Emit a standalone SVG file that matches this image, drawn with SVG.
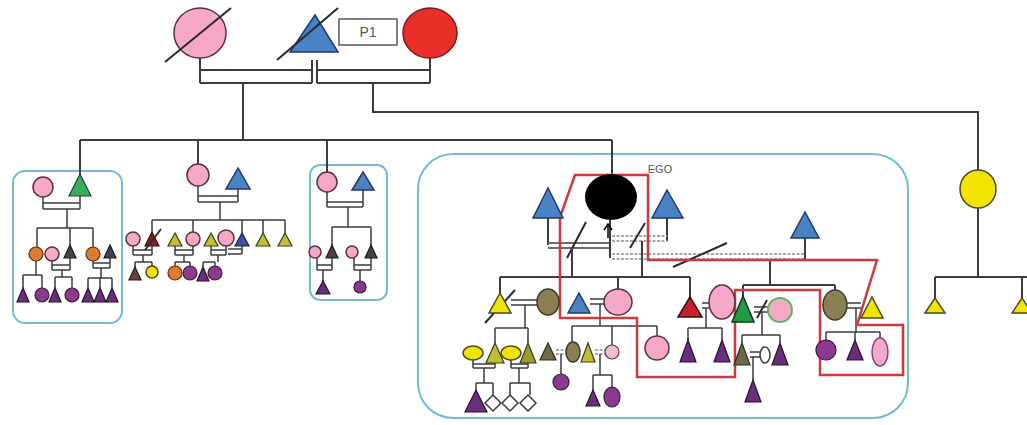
<svg xmlns="http://www.w3.org/2000/svg" width="1027" height="425" viewBox="0 0 1027 425">
<style>
.ln{stroke:#3c3c3c;stroke-width:2;fill:none}
.tn{stroke:#3c3c3c;stroke-width:1.5;fill:none}
.gr{stroke:#6a6a6a;stroke-width:2;fill:none}
.ds{stroke:#8a8a8a;stroke-width:1.5;stroke-dasharray:3 1.5;fill:none}
.sl{stroke:#2a2a2a;stroke-width:2;fill:none}
.box{fill:none;stroke:#72bcd2;stroke-width:2}
.red{fill:none;stroke:#cc3a3e;stroke-width:2.5;stroke-linejoin:miter}
.pk{fill:#f6a8c8;stroke:#5a3040;stroke-width:1.5}
.bl{fill:#4a82c6;stroke:#22396a;stroke-width:1.5}
.rd{fill:#e8302a;stroke:#7a1a1a;stroke-width:1.5}
.yl{fill:#f2e400;stroke:#4a4a20;stroke-width:1.5}
.yg{fill:#c4bc32;stroke:#3c3c20;stroke-width:1.2}
.ol{fill:#8a7e52;stroke:#3c3a28;stroke-width:1.5}
.dol{fill:#6e6a44;stroke:#2c2a20;stroke-width:1.2}
.pu{fill:#8c3a8e;stroke:#3a1a3a;stroke-width:1.2}
.dpu{fill:#6a2e7a;stroke:#2a1030;stroke-width:1.2}
.or{fill:#e07a30;stroke:#5a3010;stroke-width:1.2}
.gn{fill:#3aaa60;stroke:#1a4a2a;stroke-width:1.2}
.dk{fill:#4a4048;stroke:#1a1a1a;stroke-width:1.2}
.wh{fill:#ffffff;stroke:#3c3c3c;stroke-width:1.5}
.txt{font-family:'Liberation Sans',Arial,sans-serif}
</style>
<rect width="1027" height="425" fill="#ffffff"/>

<g id="boxes">
<rect class="box" x="13" y="171" width="109" height="152" rx="12"/>
<rect class="box" x="310" y="165" width="77" height="135" rx="10"/>
<rect class="box" x="418" y="154" width="490" height="264" rx="35"/>
</g>

<g id="connectors">
<path class="ln" d="M200,58 V83 M200,70 H312 M200,83 H312 M312,60 V83 M317,60 V83 M317,70 H430 M317,83 H430 M430,58 V83"/>
<path class="ln" d="M243,83 V140 M373,83 V112 H978 V170 M978,208 V277 M935,277 H1027 M935,277 V298 M1022,277 V298"/>
<path class="ln" d="M80,140 H612 M80,140 V174 M198,140 V164 M327,140 V172 M612,140 V175"/>
<!-- left box -->
<path class="tn" d="M43,197 V209 M80,196 V209 M43,203 H80 M43,209 H80 M67,209 V228 M37,228 H93 M37,228 V247 M70,228 V245 M93,228 V247"/>
<path class="tn" d="M36,261 V275 M23,275 H42 M23,275 V288 M42,275 V288"/>
<path class="tn" d="M52,261 V270 M70,258 V270 M52,265 H70 M52,270 H70 M62,270 V277 M55,277 H72 M55,277 V288 M72,277 V288"/>
<path class="tn" d="M93,261 V268 M110,258 V268 M93,263 H110 M93,268 H110 M101,268 V278 M88,278 H112 M88,278 V288 M100,278 V288 M112,278 V288"/>
<!-- middle family -->
<path class="tn" d="M198,186 V202 M238,189 V202 M198,196 H238 M198,202 H238 M220,202 V220 M152,220 H285 M152,220 V232 M193,220 V232 M242,220 V233 M263,220 V233 M285,220 V233"/>
<path class="tn" d="M133,246 V255 M152,246 V255 M133,250 H152 M133,255 H152 M143,255 V262 M135,262 H152 M135,262 V267 M152,262 V266"/>
<path class="tn" d="M175,246 V255 M193,246 V255 M175,250 H193 M175,255 H193 M184,255 V262 M175,262 H190 M175,262 V266 M190,262 V266"/>
<path class="tn" d="M211,246 V255 M226,246 V255 M211,250 H226 M211,255 H226 M218,255 V262 M203,262 H215 M203,262 V267 M215,262 V266 M228,249 H242 M228,254 H242 M242,246 V254"/>
<!-- third box -->
<path class="tn" d="M327,192 V207 M363,190 V207 M327,202 H363 M327,207 H363 M348,207 V227 M332,227 H371 M332,227 V245 M371,227 V245"/>
<path class="tn" d="M317,258 V270 M332,258 V270 M317,265 H332 M317,270 H332 M323,270 V281"/>
<path class="tn" d="M354,258 V270 M371,258 V270 M354,265 H371 M354,270 H371 M360,270 V281"/>
<!-- EGO family -->
<path class="ln" d="M548,218 V245"/>
<path class="gr" d="M548,243 H610 M548,248 H610"/>
<path class="ln" d="M610,220 V258 M667,218 V241 M805,238 V259"/>
<path class="ds" d="M612,236 H667 M612,241 H667 M612,254 H805 M612,259 H805"/>
<path class="sl" d="M567,258 L586,222 M630,248 L645,223 M673,267 L727,243"/>
<path class="ln" d="M572,248 V277 M642,241 V277 M770,259 V285"/>
<path class="ln" d="M500,277 H690 M500,277 V293 M618,277 V289 M690,277 V297"/>
<path class="ln" d="M743,285 H835 M743,285 V297 M835,285 V290"/>
<path class="tn" d="M511,300 H537 M511,305 H537 M590,299 H604 M590,304 H604 M702,303 H709 M702,308 H709 M754,307 H768 M754,312 H768 M847,303 H861 M847,308 H861"/>
<path class="sl" d="M757,318 L767,300 M485,323 L515,290"/>
<!-- gen 4 -->
<path class="tn" d="M525,305 V328 M495,328 H528 M495,328 V343 M528,328 V343"/>
<path class="tn" d="M473,360 V368 M495,363 V368 M473,364 H495 M473,368 H495 M484,368 V383 M476,383 H493 M476,383 V390 M493,383 V395"/>
<path class="tn" d="M511,360 V368 M528,363 V368 M511,364 H528 M511,368 H528 M519,368 V383 M510,383 H530 M510,383 V395 M530,383 V395"/>
<path class="tn" d="M600,304 V326 M572,326 H657 M572,326 V342 M612,326 V345 M657,326 V336"/>
<path class="ds" d="M556,350 H566 M556,354 H566 M595,350 H605 M595,354 H605"/>
<path class="tn" d="M561,354 V374 M600,354 V375 M593,375 H612 M593,375 V390 M612,375 V388"/>
<path class="tn" d="M706,308 V328 M688,328 H722 M688,328 V340 M722,328 V340"/>
<path class="tn" d="M762,312 V335 M742,335 H780 M742,335 V343 M780,335 V343 M750,352 H760 M750,357 H760 M753,357 V380"/>
<path class="tn" d="M856,308 V332 M826,332 H880 M826,332 V340 M855,332 V340 M880,332 V338"/>
</g>

<g id="red-outline">
<polygon class="red" points="575,175 648,175 648,260 877,260 857,325 903,325 903,375 820,375 820,290 735,290 735,377 637,377 637,318 560,318 560,217"/>
</g>

<g id="gen1">
<g id="grandmother"><ellipse class="pk" cx="200" cy="33" rx="26" ry="25"/><line class="sl" x1="165" y1="62" x2="231" y2="8"/></g>
<g id="grandfather"><polygon class="bl" points="315,15 290,52 338,52"/><line class="sl" x1="277" y1="60" x2="338" y2="8"/></g>
<g id="p1-label"><rect x="339" y="19" width="58" height="26" fill="#ffffff" stroke="#555555" stroke-width="1.5"/><text class="txt" x="368" y="37" font-size="14" fill="#555555" text-anchor="middle">P1</text></g>
<g id="partner1"><ellipse class="rd" cx="430" cy="33" rx="27" ry="25"/></g>
</g>

<g id="left-family">
<circle class="pk" cx="43" cy="187" r="10"/>
<polygon class="gn" points="80,174 69,196 91,196"/>
<circle class="or" cx="36" cy="254" r="7"/>
<circle class="pk" cx="52" cy="254" r="7"/>
<polygon class="dk" points="70,245 64,258 76,258"/>
<circle class="or" cx="93" cy="254" r="7"/>
<polygon class="dk" points="110,245 104,258 116,258"/>
<polygon class="dpu" points="23,288 17,302 29,302"/>
<circle class="pu" cx="42" cy="295" r="7"/>
<polygon class="dpu" points="55,288 49,302 61,302"/>
<circle class="pu" cx="72" cy="295" r="7"/>
<polygon class="dpu" points="88,288 82,302 94,302"/>
<polygon class="dpu" points="100,288 94,302 106,302"/>
<polygon class="dpu" points="112,288 106,302 118,302"/>
</g>

<g id="middle-family">
<circle class="pk" cx="198" cy="175" r="11"/>
<polygon class="bl" points="238,168 226,189 250,189"/>
<circle class="pk" cx="133" cy="239" r="7"/>
<polygon fill="#8a2020" stroke="#2a1010" stroke-width="1.2" points="152,232 145,246 159,246"/>
<line class="sl" x1="145" y1="250" x2="161" y2="229" stroke-width="1.5"/>
<polygon class="yg" points="175,233 168,246 182,246"/>
<circle class="pk" cx="193" cy="239" r="7"/>
<polygon class="yg" points="211,233 204,246 218,246"/>
<circle class="pk" cx="226" cy="238" r="8"/>
<polygon fill="#4050a0" stroke="#1a2040" stroke-width="1.2" points="242,233 235,246 249,246"/>
<polygon class="yg" points="263,233 256,246 270,246"/>
<polygon class="yg" points="285,233 278,246 292,246"/>
<polygon fill="#6a4040" stroke="#2a1a1a" stroke-width="1.2" points="135,267 129,280 141,280"/>
<circle class="yl" cx="152" cy="272" r="6"/>
<circle class="or" cx="175" cy="273" r="7"/>
<circle class="pu" cx="190" cy="273" r="7"/>
<polygon class="dpu" points="203,267 197,281 209,281"/>
<circle class="pu" cx="215" cy="273" r="7"/>
</g>

<g id="third-family">
<circle class="pk" cx="327" cy="182" r="10"/>
<polygon class="bl" points="363,172 352,190 374,190"/>
<circle class="pk" cx="315" cy="252" r="6"/>
<polygon class="dk" points="332,245 326,258 338,258"/>
<circle class="pk" cx="352" cy="252" r="6"/>
<polygon class="dk" points="371,245 365,258 377,258"/>
<polygon class="dpu" points="323,281 316,294 330,294"/>
<circle class="pu" cx="360" cy="287" r="6"/>
</g>

<g id="ego-family">
<g id="ego"><ellipse cx="611" cy="197" rx="26" ry="23" fill="#000000"/><text class="txt" x="660" y="173" font-size="11" fill="#555555" text-anchor="middle">EGO</text></g>
<path d="M608,238 V226 M604,230 L608,224 L612,230" stroke="#000" stroke-width="1.5" fill="none"/>
<polygon class="bl" points="548,188 533,218 563,218"/>
<polygon class="bl" points="667,190 652,218 683,218"/>
<polygon class="bl" points="805,212 791,238 819,238"/>
<polygon class="yl" points="500,293 489,313 511,313"/>
<ellipse class="ol" cx="548" cy="302" rx="11" ry="13"/>
<polygon class="bl" points="579,293 568,313 590,313"/>
<ellipse class="pk" cx="618" cy="302" rx="14" ry="13"/>
<polygon fill="#c8202a" stroke="#3a0a0a" stroke-width="1.5" points="690,297 678,317 702,317"/>
<ellipse class="pk" cx="722" cy="302" rx="13" ry="17"/>
<polygon fill="#1f9a45" stroke="#0a3a1a" stroke-width="1.5" points="743,296 732,322 754,322"/>
<circle cx="780" cy="310" r="12" fill="#f6a8c8" stroke="#5cb85c" stroke-width="2"/>
<ellipse class="ol" cx="835" cy="305" rx="12" ry="15"/>
<polygon class="yl" points="872,297 861,318 883,318"/>
<ellipse class="yl" cx="473" cy="353" rx="10" ry="7"/>
<polygon class="yg" points="495,343 486,363 504,363"/>
<ellipse class="yl" cx="511" cy="353" rx="10" ry="7"/>
<polygon fill="#9a9a30" stroke="#3a3a10" stroke-width="1.2" points="528,343 520,363 536,363"/>
<polygon class="dpu" points="476,390 465,412 487,412"/>
<polygon class="wh" points="493,395 501,403 493,411 485,403"/>
<polygon class="wh" points="510,395 518,403 510,411 502,403"/>
<polygon class="wh" points="528,395 536,403 528,411 520,403"/>
<polygon class="dol" points="548,343 540,360 556,360"/>
<ellipse class="ol" cx="573" cy="352" rx="7" ry="10"/>
<polygon class="yg" points="588,343 581,362 595,362"/>
<circle cx="612" cy="352" r="7" fill="#f0c0c8" stroke="#5a3040" stroke-width="1.2"/>
<circle class="pk" cx="657" cy="348" r="12"/>
<circle class="pu" cx="561" cy="382" r="8"/>
<polygon class="dpu" points="593,390 586,406 600,406"/>
<ellipse class="pu" cx="612" cy="397" rx="8" ry="10"/>
<polygon class="dpu" points="688,340 680,362 696,362"/>
<polygon class="dpu" points="722,340 714,362 730,362"/>
<polygon class="dol" points="742,343 734,365 750,365"/>
<ellipse class="wh" cx="765" cy="355" rx="5" ry="8"/>
<polygon class="dpu" points="780,343 772,365 788,365"/>
<polygon class="dpu" points="753,380 745,402 761,402"/>
<circle class="pu" cx="826" cy="350" r="10"/>
<polygon class="dpu" points="855,340 847,360 863,360"/>
<ellipse cx="880" cy="352" rx="8" ry="14" fill="#f6a8c8" stroke="#8c3a8e" stroke-width="1.5"/>
</g>

<g id="right-family">
<ellipse class="yl" cx="978" cy="189" rx="18" ry="19"/>
<polygon class="yl" points="935,298 925,313 945,313"/>
<polygon class="yl" points="1022,298 1012,313 1032,313"/>
</g>
</svg>
